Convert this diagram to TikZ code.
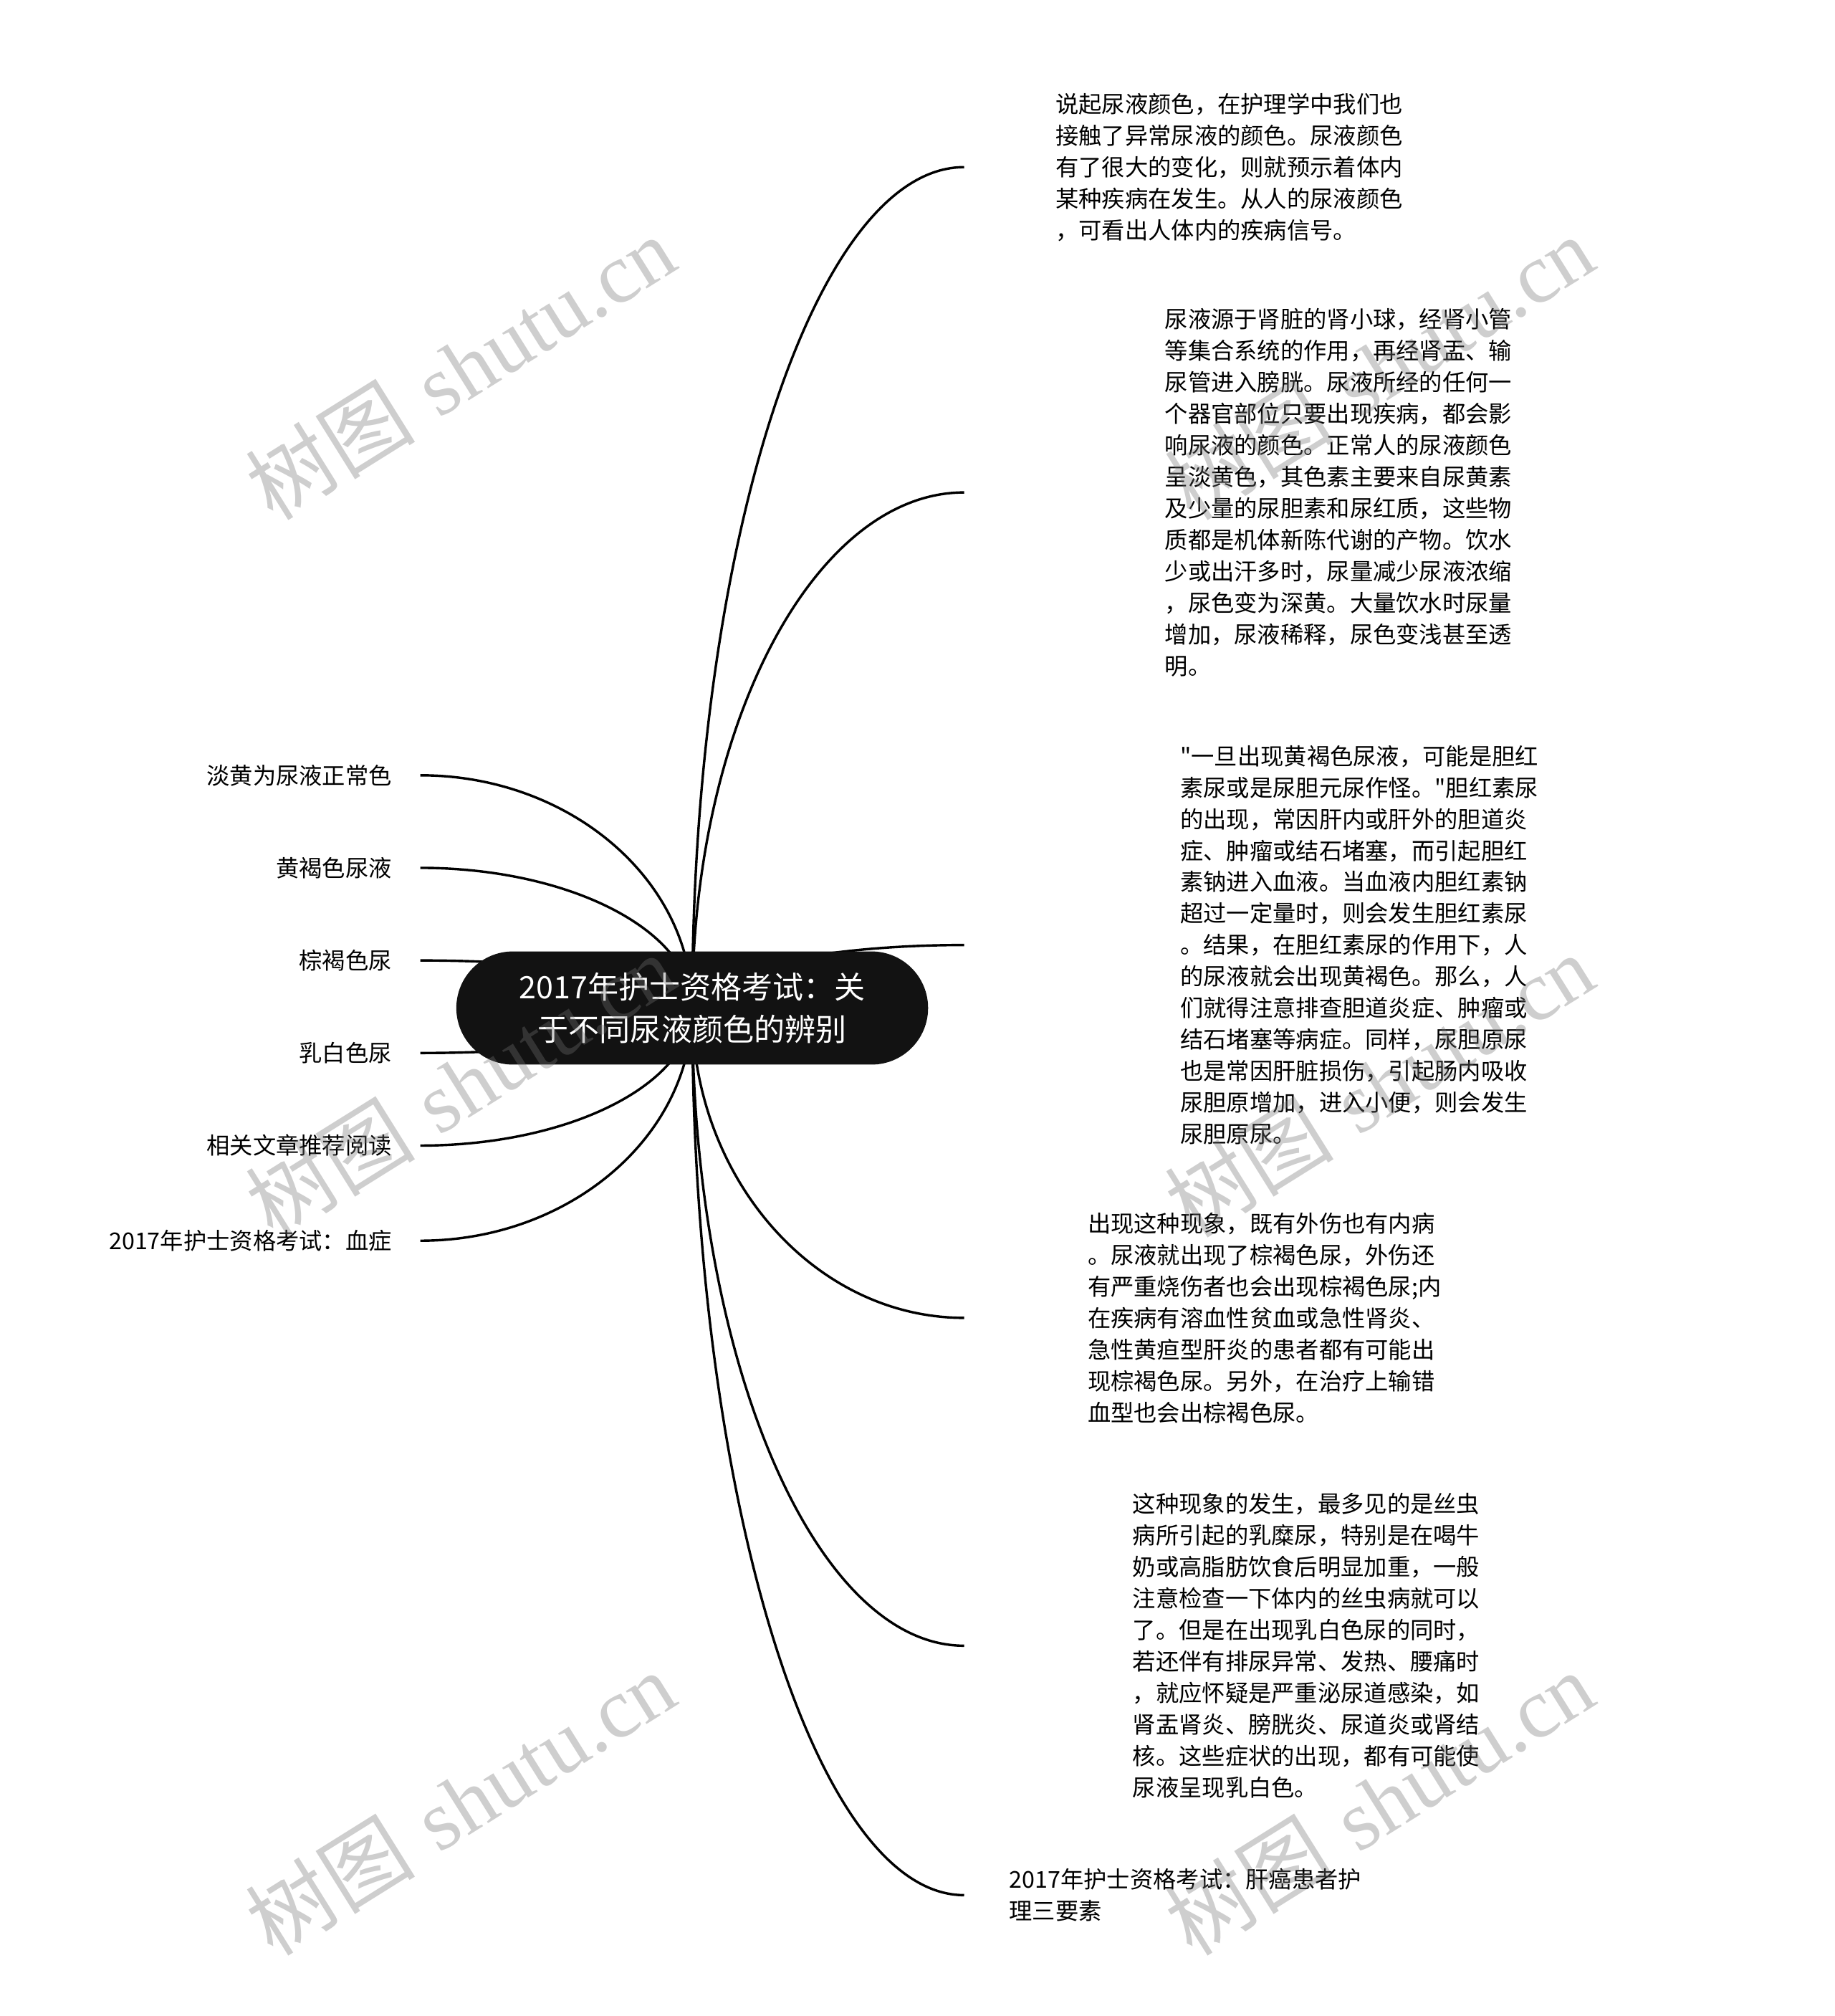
\documentclass[tikz,border=0pt]{standalone}
\usepackage{fontspec}
\newfontfamily\cjk{Noto Sans CJK SC}
\newfontfamily\markserif{Liberation Serif}
\usetikzlibrary{positioning,calc,backgrounds}

\tikzset{
  topic/.style={fill=black!93, text=white, rounded corners=44pt, minimum width=367pt,
    minimum height=88pt, inner sep=0pt, align=center, font=\cjk\fontsize{24}{33}\selectfont},
  para/.style={inner sep=0pt, align=left, font=\cjk\fontsize{18}{24.5}\selectfont},
  leaf/.style={inner sep=0pt, font=\cjk\fontsize{18}{24.5}\selectfont},
  branch/.style={line width=1.9pt, to path={.. controls ($(\tikztostart)!0.55!(\tikztostart |- \tikztotarget)$)
    and ($(\tikztotarget)!0.55!(\tikztostart |- \tikztotarget)$) .. (\tikztotarget)}},
  stamp/.style={text=black!55, opacity=0.35, rotate=32, inner sep=0pt}
}

\begin{document}
\begin{tikzpicture}[x=1pt, y=-1pt]
    \useasboundingbox (0,0) rectangle (1427,1568);

    \node[topic] (root) at (538.5,784) {2017年护士资格考试：关\\于不同尿液颜色的辨别};

    % right side
    \coordinate (e1) at (750,130);
    \coordinate (e2) at (750,383);
    \coordinate (e3) at (750,735);
    \coordinate (e4) at (750,1025);
    \coordinate (e5) at (750,1280);
    \coordinate (e6) at (750,1474);

    \node[para, right=71pt of e1] (r1) {说起尿液颜色，在护理学中我们也\\接触了异常尿液的颜色。尿液颜色\\有了很大的变化，则就预示着体内\\某种疾病在发生。从人的尿液颜色\\，可看出人体内的疾病信号。};
    \node[para, right=156pt of e2] (r2) {尿液源于肾脏的肾小球，经肾小管\\等集合系统的作用，再经肾盂、输\\尿管进入膀胱。尿液所经的任何一\\个器官部位只要出现疾病，都会影\\响尿液的颜色。正常人的尿液颜色\\呈淡黄色，其色素主要来自尿黄素\\及少量的尿胆素和尿红质，这些物\\质都是机体新陈代谢的产物。饮水\\少或出汗多时，尿量减少尿液浓缩\\，尿色变为深黄。大量饮水时尿量\\增加，尿液稀释，尿色变浅甚至透\\明。};
    \node[para, right=168pt of e3] (r3) {"一旦出现黄褐色尿液，可能是胆红\\素尿或是尿胆元尿作怪。"胆红素尿\\的出现，常因肝内或肝外的胆道炎\\症、肿瘤或结石堵塞，而引起胆红\\素钠进入血液。当血液内胆红素钠\\超过一定量时，则会发生胆红素尿\\。结果，在胆红素尿的作用下，人\\的尿液就会出现黄褐色。那么，人\\们就得注意排查胆道炎症、肿瘤或\\结石堵塞等病症。同样，尿胆原尿\\也是常因肝脏损伤，引起肠内吸收\\尿胆原增加，进入小便，则会发生\\尿胆原尿。};
    \node[para, right=96pt of e4] (r4) {出现这种现象，既有外伤也有内病\\。尿液就出现了棕褐色尿，外伤还\\有严重烧伤者也会出现棕褐色尿;内\\在疾病有溶血性贫血或急性肾炎、\\急性黄疸型肝炎的患者都有可能出\\现棕褐色尿。另外，在治疗上输错\\血型也会出棕褐色尿。};
    \node[para, right=131pt of e5] (r5) {这种现象的发生，最多见的是丝虫\\病所引起的乳糜尿，特别是在喝牛\\奶或高脂肪饮食后明显加重，一般\\注意检查一下体内的丝虫病就可以\\了。但是在出现乳白色尿的同时，\\若还伴有排尿异常、发热、腰痛时\\，就应怀疑是严重泌尿道感染，如\\肾盂肾炎、膀胱炎、尿道炎或肾结\\核。这些症状的出现，都有可能使\\尿液呈现乳白色。};
    \node[para, right=35pt of e6] (r6) {2017年护士资格考试：肝癌患者护\\理三要素};

    % left side
    \coordinate (f1) at (327,603);
    \coordinate (f2) at (327,675);
    \coordinate (f3) at (327,747);
    \coordinate (f4) at (327,819);
    \coordinate (f5) at (327,891);
    \coordinate (f6) at (327,965);

    \node[leaf, left=22pt of f1] (l1) {淡黄为尿液正常色};
    \node[leaf, left=22pt of f2] (l2) {黄褐色尿液};
    \node[leaf, left=22pt of f3] (l3) {棕褐色尿};
    \node[leaf, left=22pt of f4] (l4) {乳白色尿};
    \node[leaf, left=22pt of f5] (l5) {相关文章推荐阅读};
    \node[leaf, left=22pt of f6] (l6) {2017年护士资格考试：血症};

    \begin{pgfonlayer}{background}
        \fill[white] (0,0) rectangle (1427,1568);
        \draw[branch] (root.center) to (e1);
        \draw[branch] (root.center) to (e2);
        \draw[branch] (root.center) to (e3);
        \draw[branch] (root.center) to (e4);
        \draw[branch] (root.center) to (e5);
        \draw[branch] (root.center) to (e6);
        \draw[branch] (root.center) to (f1);
        \draw[branch] (root.center) to (f2);
        \draw[branch] (root.center) to (f3);
        \draw[branch] (root.center) to (f4);
        \draw[branch] (root.center) to (f5);
        \draw[branch] (root.center) to (f6);
    \end{pgfonlayer}

    % watermarks
    \foreach \wx/\wy [count=\i] in {358/286, 1073/286, 358/844, 1073/844, 358/1402, 1073/1402}
        \node[stamp] (mark\i) at (\wx,\wy) {\fontsize{66}{72}\selectfont{\cjk 树图} {\markserif shutu.cn}};
\end{tikzpicture}
\end{document}
